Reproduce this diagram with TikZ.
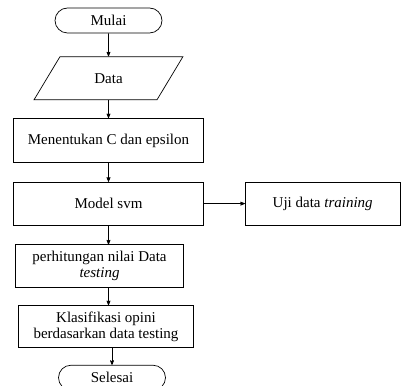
\documentclass[tikz,border=0pt]{standalone}
\usepackage{fontspec}
\setmainfont{Liberation Serif}
\usetikzlibrary{arrows,shapes.geometric,positioning}

\begin{document}
\begin{tikzpicture}[>=stealth',x=1pt,y=1pt,node distance=19pt,line width=0.7pt,
    font=\fontsize{15}{16}\selectfont,
    box/.style={draw,rectangle,minimum height=43pt,align=center,inner sep=2pt},
    term/.style={draw,rectangle,rounded corners=12.5pt,minimum width=107pt,minimum height=25pt,inner sep=1pt},
    io/.style={draw,trapezium,trapezium left angle=56,trapezium right angle=124,
      trapezium stretches=true,minimum width=149pt,minimum height=43pt,inner sep=1pt}]
    \useasboundingbox (0,0) rectangle (401,-385);

    \node[term]                        (mulai)    at (108.5,-20.5)        {Mulai};
    \node[io]                          (data)     [below=23pt of mulai]   {Data};
    \node[box,minimum width=190pt,minimum height=44pt] (tentukan) [below=18pt of data] {Menentukan C dan epsilon};
    \node[box,minimum width=190pt]     (model)    [below=of tentukan]     {Model svm};
    \node[box,minimum width=155pt]     (uji)      [right=41pt of model]   {Uji data \textit{training}};
    \node[box,minimum width=168pt,xshift=-9pt]  (hitung) [below=of model] {perhitungan nilai Data\\\textit{testing}};
    \node[box,minimum width=175pt,minimum height=42pt,xshift=6.5pt] (klasifikasi) [below=17pt of hitung] {Klasifikasi opini\\berdasarkan data testing};
    \node[term,xshift=6pt]             (selesai)  [below=17pt of klasifikasi] {Selesai};

    \path[->] (mulai) edge (data);
    \path[->] (data.south) edge (data.south |- tentukan.north);
    \path[->] (tentukan.south) edge (tentukan.south |- model.north);
    \path[->] (model) edge (uji);
    \path[->] (model.south) edge (model.south |- hitung.north);
    \path[->] (model.south |- hitung.south) edge (model.south |- klasifikasi.north);
    \path[->] (selesai.north |- klasifikasi.south) edge (selesai.north);

  \end{tikzpicture}
\end{document}
